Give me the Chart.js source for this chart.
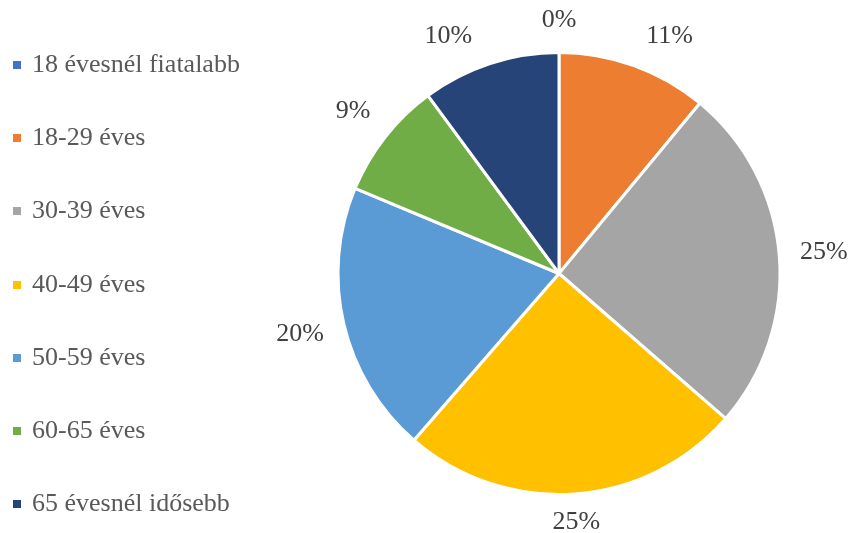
<!DOCTYPE html>
<html lang="hu">
<head>
  <meta charset="UTF-8"/>
  <title>Korcsoportok</title>
  <script src="https://cdn.jsdelivr.net/npm/chart.js"></script>
  <style>
    body { margin: 0; background: #fff; }
    #wrap { position: relative; width: 852px; height: 533px; }
    #legend { position: absolute; left: 13px; top: 0; margin: 0; padding: 0; list-style: none;
              font-family: "Liberation Serif", serif; font-size: 26px; color: #595959; }
    #legend li { position: absolute; left: 0; white-space: nowrap; line-height: 26px; height: 26px; }
    #legend span.box { display: inline-block; width: 8px; height: 8px; margin-right: 11px; vertical-align: 3px; }
  </style>
</head>
<body>
  <div id="wrap">
    <canvas id="pie" width="852" height="533"></canvas>
    <ul id="legend"></ul>
  </div>

  <script>
    // age groups and their share (%)
    const categories = ['18 évesnél fiatalabb', '18-29 éves', '30-39 éves', '40-49 éves', '50-59 éves', '60-65 éves', '65 évesnél idősebb'];
    const shares = [0, 11.0, 25.4, 25.0, 19.9, 8.6, 10.1];
    const colors = ['#4472C4', '#ED7D31', '#A5A5A5', '#FFC000', '#5B9BD5', '#70AD47', '#264478'];

    // legend (drawn as html on the left)
    const legend = document.getElementById('legend');
    categories.forEach((c, i) => {
      const li = document.createElement('li');
      li.style.top = (51 + i * 73.2) + 'px';
      li.innerHTML = '<span class="box" style="background:' + colors[i] + '"></span>' + c;
      legend.appendChild(li);
    });

    // percentage labels outside the slices
    const outsideLabels = {
      id: 'outsideLabels',
      afterDatasetsDraw(chart) {
        const ctx = chart.ctx;
        const meta = chart.getDatasetMeta(0);
        const total = shares.reduce((a, b) => a + b, 0);
        const minGap = 25 * Math.PI / 180; // keep neighbouring labels apart
        ctx.save();
        ctx.font = '26px "Liberation Serif"';
        ctx.fillStyle = '#404040';
        ctx.textAlign = 'center';
        ctx.textBaseline = 'middle';

        const labels = meta.data.map((arc, i) => {
          const p = arc.getProps(['x', 'y', 'startAngle', 'endAngle', 'outerRadius'], true);
          return { p, i, angle: (p.startAngle + p.endAngle) / 2 };
        });
        // push labels next to a smaller one away from it
        labels.forEach((l, k) => {
          [k - 1, k + 1].forEach(n => {
            const o = labels[(n + labels.length) % labels.length];
            if (shares[o.i] >= shares[l.i]) return;
            let d = l.angle - o.angle;
            while (d > Math.PI) d -= 2 * Math.PI;
            while (d < -Math.PI) d += 2 * Math.PI;
            if (Math.abs(d) < minGap) l.angle = o.angle + Math.sign(d || 1) * minGap;
          });
        });

        labels.forEach(l => {
          const txt = Math.round(shares[l.i] / total * 100) + '%';
          const w = ctx.measureText(txt).width;
          const dx = Math.cos(l.angle), dy = Math.sin(l.angle);
          const r = l.p.outerRadius + 20 + Math.abs(dx) * w / 2 + Math.abs(dy) * (dy < 0 ? 12 : 7);
          ctx.fillText(txt, l.p.x + dx * r, l.p.y + dy * r);
        });
        ctx.restore();
      }
    };

    new Chart(document.getElementById('pie'), {
      type: 'pie',
      data: {
        labels: categories,
        datasets: [{
          data: shares,
          backgroundColor: colors,
          borderColor: '#ffffff',
          borderWidth: 3
        }]
      },
      options: {
        responsive: false,
        animation: false,
        layout: { padding: { left: 266, right: 0, top: 51, bottom: 37 } },
        plugins: {
          legend: { display: false },
          tooltip: { enabled: false }
        }
      },
      plugins: [outsideLabels]
    });
  </script>
</body>
</html>
